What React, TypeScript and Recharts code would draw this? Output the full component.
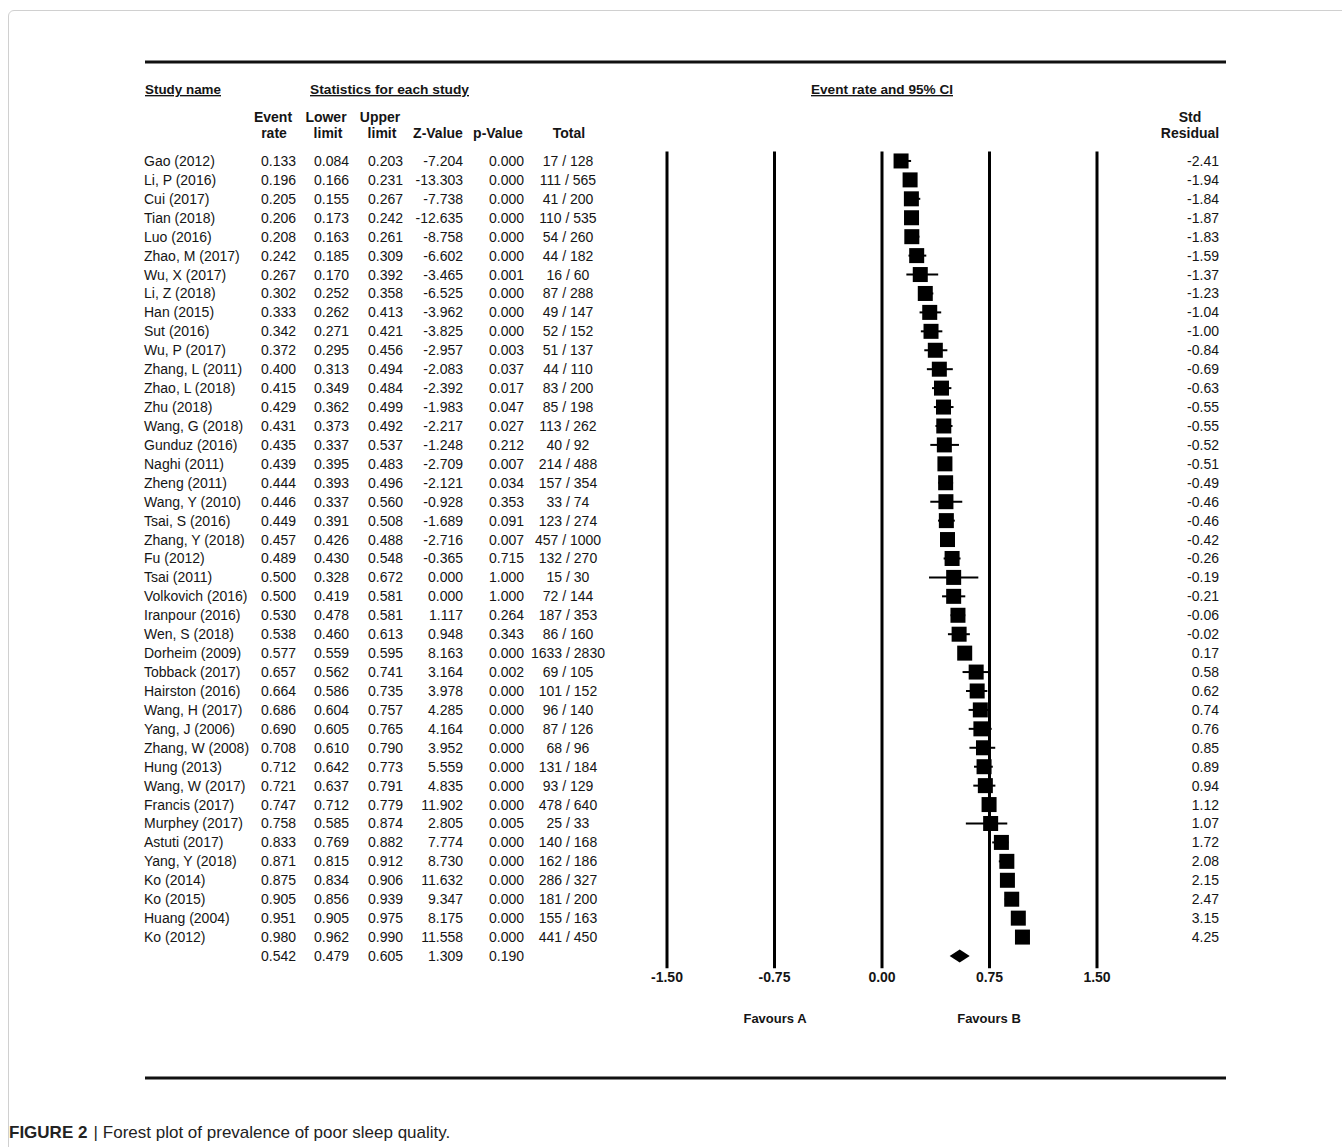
import React from 'react';
import { ComposedChart, Scatter, XAxis, YAxis, ErrorBar, ReferenceLine } from 'recharts';

const studyNames = [
  'Gao (2012)', 'Li, P (2016)', 'Cui (2017)', 'Tian (2018)', 'Luo (2016)', 'Zhao, M (2017)',
  'Wu, X (2017)', 'Li, Z (2018)', 'Han (2015)', 'Sut (2016)', 'Wu, P (2017)', 'Zhang, L (2011)',
  'Zhao, L (2018)', 'Zhu (2018)', 'Wang, G (2018)', 'Gunduz (2016)', 'Naghi (2011)', 'Zheng (2011)',
  'Wang, Y (2010)', 'Tsai, S (2016)', 'Zhang, Y (2018)', 'Fu (2012)', 'Tsai (2011)', 'Volkovich (2016)',
  'Iranpour (2016)', 'Wen, S (2018)', 'Dorheim (2009)', 'Tobback (2017)', 'Hairston (2016)', 'Wang, H (2017)',
  'Yang, J (2006)', 'Zhang, W (2008)', 'Hung (2013)', 'Wang, W (2017)', 'Francis (2017)', 'Murphey (2017)',
  'Astuti (2017)', 'Yang, Y (2018)', 'Ko (2014)', 'Ko (2015)', 'Huang (2004)', 'Ko (2012)',
];
const eventRates = [
  0.133, 0.196, 0.205, 0.206, 0.208, 0.242, 0.267, 0.302, 0.333, 0.342, 0.372, 0.4, 0.415, 0.429,
  0.431, 0.435, 0.439, 0.444, 0.446, 0.449, 0.457, 0.489, 0.5, 0.5, 0.53, 0.538, 0.577, 0.657,
  0.664, 0.686, 0.69, 0.708, 0.712, 0.721, 0.747, 0.758, 0.833, 0.871, 0.875, 0.905, 0.951, 0.98,
];
const lowerLimits = [
  0.084, 0.166, 0.155, 0.173, 0.163, 0.185, 0.17, 0.252, 0.262, 0.271, 0.295, 0.313, 0.349, 0.362,
  0.373, 0.337, 0.395, 0.393, 0.337, 0.391, 0.426, 0.43, 0.328, 0.419, 0.478, 0.46, 0.559, 0.562,
  0.586, 0.604, 0.605, 0.61, 0.642, 0.637, 0.712, 0.585, 0.769, 0.815, 0.834, 0.856, 0.905, 0.962,
];
const upperLimits = [
  0.203, 0.231, 0.267, 0.242, 0.261, 0.309, 0.392, 0.358, 0.413, 0.421, 0.456, 0.494, 0.484, 0.499,
  0.492, 0.537, 0.483, 0.496, 0.56, 0.508, 0.488, 0.548, 0.672, 0.581, 0.581, 0.613, 0.595, 0.741,
  0.735, 0.757, 0.765, 0.79, 0.773, 0.791, 0.779, 0.874, 0.882, 0.912, 0.906, 0.939, 0.975, 0.99,
];
const zValues = [
  -7.204, -13.303, -7.738, -12.635, -8.758, -6.602, -3.465, -6.525, -3.962, -3.825, -2.957, -2.083,
  -2.392, -1.983, -2.217, -1.248, -2.709, -2.121, -0.928, -1.689, -2.716, -0.365, 0.0, 0.0, 1.117,
  0.948, 8.163, 3.164, 3.978, 4.285, 4.164, 3.952, 5.559, 4.835, 11.902, 2.805, 7.774, 8.73, 11.632,
  9.347, 8.175, 11.558,
];
const pValues = [
  0.0, 0.0, 0.0, 0.0, 0.0, 0.0, 0.001, 0.0, 0.0, 0.0, 0.003, 0.037, 0.017, 0.047, 0.027, 0.212, 0.007,
  0.034, 0.353, 0.091, 0.007, 0.715, 1.0, 1.0, 0.264, 0.343, 0.0, 0.002, 0.0, 0.0, 0.0, 0.0, 0.0, 0.0,
  0.0, 0.005, 0.0, 0.0, 0.0, 0.0, 0.0, 0.0,
];
const eventCounts = [
  17, 111, 41, 110, 54, 44, 16, 87, 49, 52, 51, 44, 83, 85, 113, 40, 214, 157, 33, 123, 457, 132, 15,
  72, 187, 86, 1633, 69, 101, 96, 87, 68, 131, 93, 478, 25, 140, 162, 286, 181, 155, 441,
];
const totalCounts = [
  128, 565, 200, 535, 260, 182, 60, 288, 147, 152, 137, 110, 200, 198, 262, 92, 488, 354, 74, 274,
  1000, 270, 30, 144, 353, 160, 2830, 105, 152, 140, 126, 96, 184, 129, 640, 33, 168, 186, 327, 200,
  163, 450,
];
const stdResiduals = [
  -2.41, -1.94, -1.84, -1.87, -1.83, -1.59, -1.37, -1.23, -1.04, -1.0, -0.84, -0.69, -0.63, -0.55,
  -0.55, -0.52, -0.51, -0.49, -0.46, -0.46, -0.42, -0.26, -0.19, -0.21, -0.06, -0.02, 0.17, 0.58,
  0.62, 0.74, 0.76, 0.85, 0.89, 0.94, 1.12, 1.07, 1.72, 2.08, 2.15, 2.47, 3.15, 4.25,
];
const summaryStats = [0.542, 0.479, 0.605, 1.309, 0.19]; // rate, lower, upper, z, p
const axisTicks = [-1.5, -0.75, 0, 0.75, 1.5];

// layout
const W = 1342;
const H = 1147;
const PLOT_LEFT = 667;
const PLOT_RIGHT = 1097;
const PLOT_TOP = 151.5;
const PLOT_BOTTOM = 968.3;
const X_DOMAIN: [number, number] = [-1.5, 1.5];
const Y_DOMAIN: [number, number] = [-0.5, 42.65];
const PX_PER_UNIT = (PLOT_RIGHT - PLOT_LEFT) / (X_DOMAIN[1] - X_DOMAIN[0]);
const FONT = "'Liberation Sans', Arial, Helvetica, sans-serif";
const TXT = '#151515';

const studyData = studyNames.map((name, i) => ({
  name,
  x: eventRates[i],
  row: i,
  err: [eventRates[i] - lowerLimits[i], upperLimits[i] - eventRates[i]],
}));
const summaryData = [
  { x: summaryStats[0], row: studyNames.length, lower: summaryStats[1], upper: summaryStats[2] },
];
// one anchor per table row (x is irrelevant; only the row position from the y scale is used)
const tableRows = Array.from({ length: studyNames.length + 1 }, (_, i) => ({ x: 0, row: i }));

const COL = { name: 144, rate: 296, lower: 349, upper: 403, z: 463, p: 524, total: 568, res: 1219 };

const RowText = (props: any) => {
  const { cy, payload } = props;
  const i = Number(payload.row);
  const isSummary = i === studyNames.length;
  const b = cy + 5;
  const common = { fontFamily: FONT, fontSize: 14, fill: TXT } as any;
  const rate = isSummary ? summaryStats[0] : eventRates[i];
  const lo = isSummary ? summaryStats[1] : lowerLimits[i];
  const up = isSummary ? summaryStats[2] : upperLimits[i];
  const z = isSummary ? summaryStats[3] : zValues[i];
  const p = isSummary ? summaryStats[4] : pValues[i];
  return (
    <g>
      {!isSummary && (
        <text x={COL.name} y={b} textAnchor="start" {...common}>{studyNames[i]}</text>
      )}
      <text x={COL.rate} y={b} textAnchor="end" {...common}>{rate.toFixed(3)}</text>
      <text x={COL.lower} y={b} textAnchor="end" {...common}>{lo.toFixed(3)}</text>
      <text x={COL.upper} y={b} textAnchor="end" {...common}>{up.toFixed(3)}</text>
      <text x={COL.z} y={b} textAnchor="end" {...common}>{z.toFixed(3)}</text>
      <text x={COL.p} y={b} textAnchor="end" {...common}>{p.toFixed(3)}</text>
      {!isSummary && (
        <>
          <text x={COL.total} y={b} textAnchor="middle" {...common} style={{ whiteSpace: 'pre' }}>
            {`${eventCounts[i]} / ${totalCounts[i]}`}
          </text>
          <text x={COL.res} y={b} textAnchor="end" {...common}>{stdResiduals[i].toFixed(2)}</text>
        </>
      )}
    </g>
  );
};

const SquareShape = (props: any) => {
  const { cx, cy } = props;
  const s = 15;
  return <rect x={cx - s / 2} y={cy - s / 2} width={s} height={s} fill="#000" />;
};

const DiamondShape = (props: any) => {
  const { cx, cy, payload } = props;
  const left = cx - (payload.x - payload.lower) * PX_PER_UNIT - 1;
  const right = cx + (payload.upper - payload.x) * PX_PER_UNIT + 1;
  const h = 6.5;
  return <path d={`M${left},${cy} L${cx},${cy - h} L${right},${cy} L${cx},${cy + h} Z`} fill="#000" />;
};

const boldText = { fontFamily: FONT, fontWeight: 700, fill: TXT } as any;

export default function App() {
  return (
    <div style={{ position: 'absolute', left: 0, top: 0, width: W, height: H, overflow: 'hidden', background: '#fff' }}>
      <div
        style={{
          position: 'absolute', left: 8, top: 10, width: 1400, height: 1200,
          border: '1px solid #d0d0d0', borderRadius: 6, boxSizing: 'border-box',
        }}
      />
      <div style={{ position: 'absolute', left: 0, top: 0 }}>
        <ComposedChart
          width={W}
          height={H}
          margin={{ top: PLOT_TOP, bottom: H - PLOT_BOTTOM - 30, left: PLOT_LEFT, right: W - PLOT_RIGHT }}
        >
          <XAxis
            type="number"
            dataKey="x"
            domain={X_DOMAIN}
            ticks={axisTicks}
            interval={0}
            height={30}
            axisLine={false}
            tickLine={false}
            tickSize={0}
            tickMargin={4}
            tickFormatter={(v: number) => v.toFixed(2)}
            tick={{ fontFamily: FONT, fontWeight: 700, fontSize: 14, fill: TXT }}
          />
          <YAxis
            type="number"
            dataKey="row"
            domain={Y_DOMAIN}
            reversed
            width={0}
            axisLine={false}
            tickLine={false}
            tick={false}
          />
          {axisTicks.map((t) => (
            <ReferenceLine key={t} x={t} stroke="#000" strokeWidth={3} />
          ))}
          <Scatter data={tableRows} shape={<RowText />} isAnimationActive={false} />
          <Scatter data={studyData} shape={<SquareShape />} isAnimationActive={false}>
            <ErrorBar dataKey="err" direction="x" width={0} stroke="#000" strokeWidth={2} />
          </Scatter>
          <Scatter data={summaryData} shape={<DiamondShape />} isAnimationActive={false} />
        </ComposedChart>
      </div>
      <svg
        width={W}
        height={H}
        style={{ position: 'absolute', left: 0, top: 0, pointerEvents: 'none' }}
      >
        <line x1={145} x2={1226} y1={62} y2={62} stroke="#111" strokeWidth={3} />
        <line x1={145} x2={1226} y1={1078} y2={1078} stroke="#111" strokeWidth={3} />

        <text x={145} y={94} fontSize={13.5} textDecoration="underline" {...boldText} textLength={76} lengthAdjust="spacingAndGlyphs">Study name</text>
        <text x={310} y={94} fontSize={13.5} textDecoration="underline" {...boldText} textLength={159} lengthAdjust="spacingAndGlyphs">Statistics for each study</text>
        <text x={811} y={94} fontSize={13.5} textDecoration="underline" {...boldText} textLength={142} lengthAdjust="spacingAndGlyphs">Event rate and 95% CI</text>

        <text x={273} y={122} fontSize={14} textAnchor="middle" {...boldText}>Event</text>
        <text x={274} y={138} fontSize={14} textAnchor="middle" {...boldText}>rate</text>
        <text x={326} y={122} fontSize={14} textAnchor="middle" {...boldText}>Lower</text>
        <text x={328} y={138} fontSize={14} textAnchor="middle" {...boldText}>limit</text>
        <text x={380} y={122} fontSize={14} textAnchor="middle" {...boldText}>Upper</text>
        <text x={382} y={138} fontSize={14} textAnchor="middle" {...boldText}>limit</text>
        <text x={438} y={138} fontSize={14} textAnchor="middle" {...boldText}>Z-Value</text>
        <text x={498} y={138} fontSize={14} textAnchor="middle" {...boldText}>p-Value</text>
        <text x={569} y={138} fontSize={14} textAnchor="middle" {...boldText}>Total</text>
        <text x={1190} y={122} fontSize={14} textAnchor="middle" {...boldText}>Std</text>
        <text x={1190} y={138} fontSize={14} textAnchor="middle" {...boldText}>Residual</text>

        <text x={775} y={1023} fontSize={13} textAnchor="middle" {...boldText}>Favours A</text>
        <text x={989} y={1023} fontSize={13} textAnchor="middle" {...boldText}>Favours B</text>

        <text x={9} y={1138} fontSize={17} fontFamily={FONT} fill="#222">
          <tspan fontWeight={700}>FIGURE 2</tspan>
          <tspan dx={6}>|</tspan>
          <tspan dx={5}>Forest plot of prevalence of poor sleep quality.</tspan>
        </text>
      </svg>
    </div>
  );
}
